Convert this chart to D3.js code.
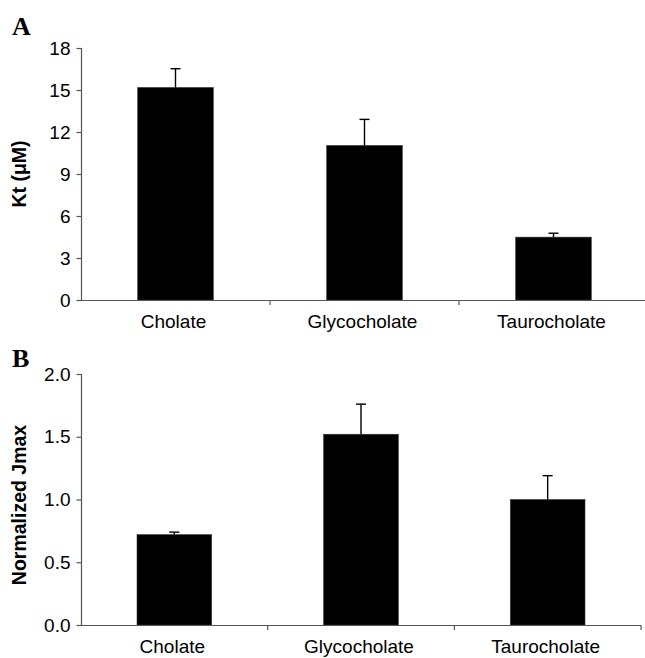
<!DOCTYPE html>
<html>
<head>
<meta charset="utf-8">
<script src="https://cdn.jsdelivr.net/npm/d3@7"></script>
<style>
  html, body { margin: 0; padding: 0; background: #fff; }
  svg { display: block; }
</style>
</head>
<body>
<div id="chart"></div>
<script>
// Data
const categories = ["Cholate", "Glycocholate", "Taurocholate"];
const ktMeans = [15.18, 11.04, 4.49];
const ktErrors = [1.34, 1.86, 0.28];
const ktTicks = [0, 3, 6, 9, 12, 15, 18];
const jmaxMeans = [0.72, 1.52, 1.0];
const jmaxErrors = [0.02, 0.24, 0.19];
const jmaxTicks = [0, 0.5, 1.0, 1.5, 2.0];

const width = 645, height = 658;
const axisColor = "#555";
const sans = "Arial, 'Liberation Sans', sans-serif";

const svg = d3.select("#chart").append("svg")
  .attr("width", width)
  .attr("height", height)
  .attr("viewBox", [0, 0, width, height]);

// Draws one bar panel with error bars
const drawPanel = opts => {
  const x = d3.scaleBand()
    .domain(categories)
    .range([opts.left, opts.right])
    .paddingInner(0.6)
    .paddingOuter(0.3);
  const y = d3.scaleLinear()
    .domain([0, opts.max])
    .range([opts.bottom, opts.top]);

  const g = svg.append("g");
  const rows = categories.map((c, i) => ({ cat: c, mean: opts.means[i], err: opts.errors[i] }));

  // Bars
  g.append("g")
    .selectAll("rect")
    .data(rows)
    .join("rect")
      .attr("x", d => x(d.cat))
      .attr("y", d => y(d.mean))
      .attr("width", x.bandwidth())
      .attr("height", d => y(0) - y(d.mean))
      .attr("fill", "#000")
      .attr("stroke", "#333")
      .attr("stroke-width", 0.6);

  // Error bars (upper only)
  const eb = g.append("g")
    .attr("stroke", "#000")
    .attr("stroke-width", 1.4)
    .selectAll("g")
    .data(rows)
    .join("g")
      .attr("transform", d => `translate(${x(d.cat) + x.bandwidth() / 2},0)`);
  eb.append("line")
    .attr("y1", d => y(d.mean))
    .attr("y2", d => y(d.mean + d.err));
  eb.append("line")
    .attr("x1", -5).attr("x2", 5)
    .attr("y1", d => y(d.mean + d.err))
    .attr("y2", d => y(d.mean + d.err));

  // X axis: baseline plus ticks between categories
  const xa = g.append("g").attr("stroke", axisColor).attr("stroke-width", 1.2);
  xa.append("line")
    .attr("x1", opts.left).attr("x2", opts.right)
    .attr("y1", y(0) + 0.5).attr("y2", y(0) + 0.5);
  xa.selectAll(".xt")
    .data(categories)
    .join("line")
      .attr("class", "xt")
      .attr("x1", c => x(c) - x.step() * 0.3 + x.step())
      .attr("x2", c => x(c) - x.step() * 0.3 + x.step())
      .attr("y1", y(0))
      .attr("y2", y(0) + 5);

  g.append("g")
    .selectAll("text")
    .data(categories)
    .join("text")
      .attr("x", c => x(c) + x.bandwidth() / 2 - 2)
      .attr("y", y(0) + 28)
      .attr("text-anchor", "middle")
      .attr("font-family", sans)
      .attr("font-size", 19)
      .attr("fill", "#000")
      .text(c => c);

  // Y axis
  g.append("g")
    .attr("transform", `translate(${opts.left + 0.5},0)`)
    .call(d3.axisLeft(y).tickValues(opts.ticks).tickFormat(opts.format).tickSize(5).tickPadding(6))
    .call(a => a.selectAll("path, line").attr("stroke", axisColor).attr("stroke-width", 1.2))
    .call(a => a.select(".domain").attr("d", `M0,${y(0)}V${y(opts.max)}`))
    .call(a => a.selectAll("text")
      .attr("font-family", sans)
      .attr("font-size", 19)
      .attr("fill", "#000"));

  // Y label
  g.append("text")
    .attr("transform", `translate(26,${opts.labelY}) rotate(-90)`)
    .attr("text-anchor", "middle")
    .attr("font-family", sans)
    .attr("font-size", 19.5)
    .attr("font-weight", "bold")
    .attr("fill", "#000")
    .text(opts.label);

  // Panel letter
  g.append("text")
    .attr("x", 12)
    .attr("y", opts.letterY)
    .attr("font-family", "'Times New Roman', 'Liberation Serif', serif")
    .attr("font-weight", "bold")
    .attr("font-size", 26)
    .attr("fill", "#000")
    .text(opts.letter);
};

drawPanel({
  letter: "A", letterY: 35,
  label: "Kt (\u03bcM)", labelY: 174,
  means: ktMeans, errors: ktErrors, ticks: ktTicks, max: 18,
  format: d3.format("d"),
  left: 81, right: 648, top: 48, bottom: 300
});

drawPanel({
  letter: "B", letterY: 367,
  label: "Normalized Jmax", labelY: 505,
  means: jmaxMeans, errors: jmaxErrors, ticks: jmaxTicks, max: 2,
  format: d3.format(".1f"),
  left: 81, right: 641, top: 374, bottom: 625
});
</script>
</body>
</html>
